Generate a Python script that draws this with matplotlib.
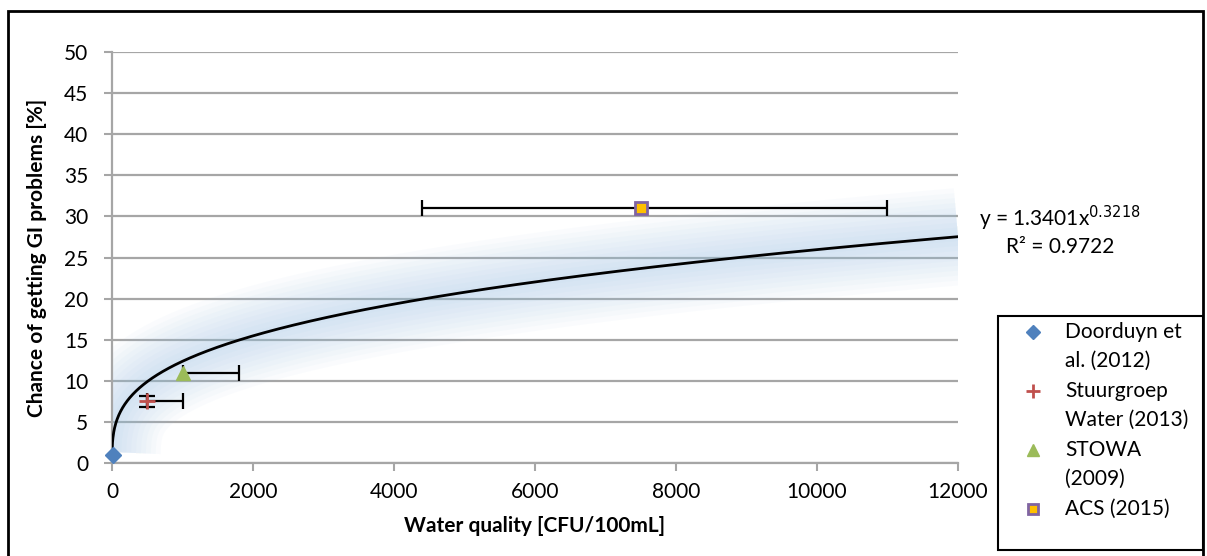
import matplotlib.pyplot as plt
import numpy as np
from matplotlib.patches import Rectangle
from matplotlib.lines import Line2D

plt.rcParams['font.family'] = ['Lato', 'DejaVu Sans']

# data points
labels = ['Doorduyn et\nal. (2012)', 'Stuurgroep\nWater (2013)', 'STOWA\n(2009)', 'ACS (2015)']
x_vals = [10, 500, 1000, 7500]
y_vals = [1.0, 7.5, 11.0, 31.0]
x_err_low = [0, 0, 0, 3100]
x_err_high = [0, 500, 800, 3500]
y_err = [0, 0.65, 0, 0]

# power trendline as printed on the chart
coef_a = 1.3401
coef_b = 0.3218
r2 = 0.9722

markers = ['D', '+', '^', 's']
face = ['#4F81BD', '#C0504D', '#9BBB59', '#FFC000']
edge = ['#4F81BD', '#C0504D', '#9BBB59', '#8064A2']
msize = [8, 11, 10, 8]

W, H = 1207, 556
fig = plt.figure(figsize=(W / 100, H / 100), dpi=100)
ax = fig.add_axes([112 / W, 1 - 463 / H, (958 - 112) / W, (463 - 52) / H])

# trendline with a soft blue glow
xt = np.linspace(1, 12000, 2000)
yt = coef_a * xt ** coef_b
for lw in np.linspace(6, 70, 10):
    ax.plot(xt, yt, color='#9DC3E6', linewidth=lw, alpha=0.05,
            solid_capstyle='butt', zorder=1)
ax.plot(xt, yt, color='black', linewidth=2, zorder=3)

for i in range(len(labels)):
    xe = [[x_err_low[i]], [x_err_high[i]]] if x_err_high[i] else None
    ye = [y_err[i]] if y_err[i] else None
    if xe is not None or ye is not None:
        ax.errorbar([x_vals[i]], [y_vals[i]], xerr=xe, yerr=ye, fmt='none',
                    ecolor='black', elinewidth=1.6, capsize=6, capthick=1.6, zorder=4)
    ax.plot([x_vals[i]], [y_vals[i]], linestyle='none', marker=markers[i],
            markersize=msize[i], markerfacecolor=face[i], markeredgecolor=edge[i],
            markeredgewidth=2 if markers[i] in ('+', 's') else 1, zorder=5, clip_on=False)

ax.set_xlim(0, 12000)
ax.set_ylim(0, 50)
ax.set_xticks(range(0, 12001, 2000))
ax.set_yticks(range(0, 51, 5))
ax.tick_params(labelsize=15, labelcolor='black', color='#A6A6A6',
               length=6, width=1.5, direction='out')
ax.tick_params(axis='x', pad=8)
ax.tick_params(axis='y', pad=11)
ax.yaxis.grid(True, color='#A6A6A6', linewidth=1.6)
ax.set_axisbelow(True)
for s in ['top', 'right']:
    ax.spines[s].set_visible(False)
for s in ['left', 'bottom']:
    ax.spines[s].set_color('#A6A6A6')
    ax.spines[s].set_linewidth(1.6)

ax.set_xlabel('Water quality [CFU/100mL]', fontsize=15, fontweight='bold', labelpad=10)
ax.set_ylabel('Chance of getting GI problems [%]', fontsize=15, fontweight='bold', labelpad=12)

fig.text(1060 / W, 1 - 218 / H, f'y = {coef_a}x$^{{{coef_b}}}$', fontsize=15,
         ha='center', va='center')
fig.text(1060 / W, 1 - 247 / H, f'R² = {r2}', fontsize=15, ha='center', va='center')

# legend box drawn by hand: Excel puts the marker on the first line of each entry
fig.patches.append(Rectangle((998 / W, 1 - 550 / H), 205 / W, 234 / H,
                             transform=fig.transFigure, fill=False,
                             edgecolor='black', linewidth=1.5))
line_y = 332
for i, lab in enumerate(labels):
    fig.lines.append(Line2D([1033 / W], [1 - line_y / H], transform=fig.transFigure,
                            linestyle='none', marker=markers[i], markersize=msize[i] - 1,
                            markerfacecolor=face[i], markeredgecolor=edge[i],
                            markeredgewidth=2 if markers[i] in ('+', 's') else 1))
    for k, part in enumerate(lab.split('\n')):
        fig.text(1065 / W, 1 - (line_y + k * 29) / H, part, fontsize=15,
                 ha='left', va='center')
    line_y += 29 * (lab.count('\n') + 1) + 1

# outer border of the chart area
fig.patches.append(Rectangle((8 / W, -5 / H), 1195 / W, (H - 11 + 5) / H,
                             transform=fig.transFigure, fill=False,
                             edgecolor='black', linewidth=2))

fig.savefig('out.png', dpi=100)
